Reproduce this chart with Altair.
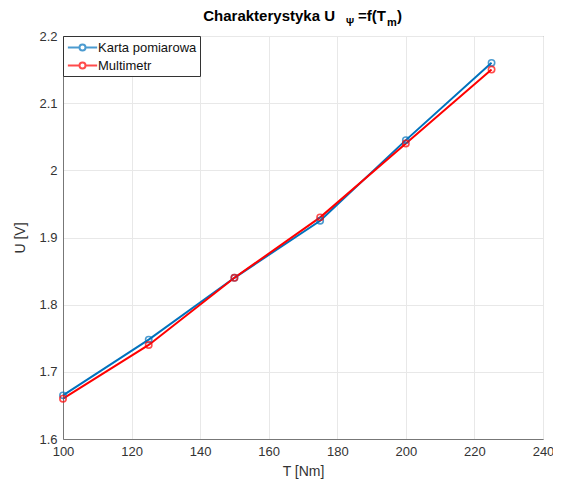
import altair as alt
import pandas as pd

torque = [100, 125, 150, 175, 200, 225]
u_card = [1.665, 1.748, 1.84, 1.925, 2.045, 2.16]
u_meter = [1.66, 1.74, 1.84, 1.93, 2.04, 2.15]
series = ["Karta pomiarowa", "Multimetr"]
colors = ["#0072BD", "#FF0000"]
x_ticks = [100, 120, 140, 160, 180, 200, 220, 240]
y_ticks = [1.6, 1.7, 1.8, 1.9, 2.0, 2.1, 2.2]

rows = []
for name, vals in zip(series, [u_card, u_meter]):
    for t, u in zip(torque, vals):
        rows.append({"T": t, "U": u, "Seria": name})
df = pd.DataFrame(rows)

FONT = "Liberation Sans"
TXT = "#333333"

legend_path = ("M-1.95,0L-0.4,0M0.4,0L1.95,0"
               "M-0.4,0A0.4,0.4,0,1,0,0.4,0A0.4,0.4,0,1,0,-0.4,0")

base = alt.Chart(df).encode(
    x=alt.X("T:Q",
            scale=alt.Scale(domain=[100, 240], nice=False, zero=False),
            axis=alt.Axis(values=x_ticks, title="T [Nm]", format="d")),
    y=alt.Y("U:Q",
            scale=alt.Scale(domain=[1.6, 2.2], nice=False, zero=False),
            axis=alt.Axis(values=y_ticks, title="U [V]",
                          labelExpr="format(datum.value, '.1~f')")),
    color=alt.Color("Seria:N",
                    scale=alt.Scale(domain=series, range=colors),
                    legend=alt.Legend(title=None, orient="top-left", offset=0,
                                      symbolType=legend_path, symbolSize=225,
                                      symbolStrokeWidth=2,
                                      symbolFillColor="transparent",
                                      symbolOffset=8,
                                      labelFontSize=13, labelFont=FONT,
                                      labelColor="#111111",
                                      strokeColor="#333333", fillColor="white",
                                      padding=3, rowPadding=2,
                                      labelOffset=7)),
)

line = base.mark_line(strokeWidth=2)
pts = base.mark_point(shape="circle", filled=False, size=40, strokeWidth=1.6)


def title_piece(txt, x, y, size, align="left"):
    return alt.Chart(alt.Data(values=[{"a": 1}])).mark_text(
        text=txt, font=FONT, fontWeight="bold", fontSize=size,
        align=align, baseline="alphabetic", color="#000000"
    ).encode(x=alt.value(x), y=alt.value(y))


t1 = title_piece("Charakterystyka U", 272, -15, 15, "right")
t2 = title_piece("\u03a8", 283, -10, 10)
t3 = title_piece("=f(T", 295, -15, 15)
t4 = title_piece("m", 324, -10, 11)
t5 = title_piece(")", 334, -15, 15)

chart = alt.layer(line, pts, t1, t2, t3, t4, t5).properties(
    width=480, height=403,
    autosize=alt.AutoSizeParams(type="none"),
    padding={"left": 55, "top": 28, "right": 10, "bottom": 44},
).configure_view(
    stroke="#777777", strokeWidth=1
).configure_axis(
    domainColor="#777777", ticks=False, grid=True, gridColor="#e8e8e8",
    labelFont=FONT, labelFontSize=13, labelColor=TXT, labelFlush=False,
    titleFont=FONT, titleFontSize=14, titleFontWeight="normal", titleColor=TXT,
).configure_axisX(
    labelPadding=6, titlePadding=6
).configure_axisY(
    labelPadding=6, titlePadding=11
)

chart.save("out.html", embed_options={"renderer": "svg", "actions": False})
